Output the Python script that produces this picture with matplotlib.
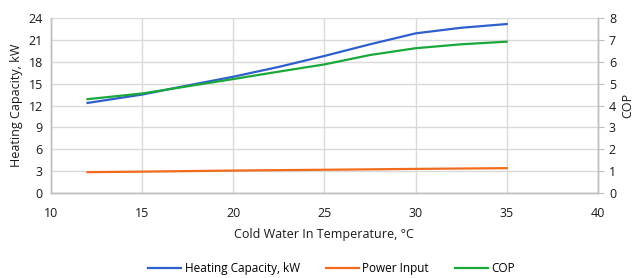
import matplotlib
matplotlib.use("Agg")
import matplotlib.pyplot as plt

plt.rcParams['font.family'] = ['Open Sans', 'DejaVu Sans']

temperature = [12, 15, 17.5, 20, 22.5, 25, 27.5, 30, 32.5, 35]
heating_capacity = [12.35, 13.5, 14.75, 15.95, 17.3, 18.8, 20.4, 21.9, 22.67, 23.18]
power_input = [2.85, 2.92, 3.0, 3.07, 3.13, 3.18, 3.24, 3.3, 3.35, 3.4]
cop = [4.29, 4.55, 4.88, 5.21, 5.55, 5.88, 6.31, 6.62, 6.8, 6.92]

x_ticks = [10, 15, 20, 25, 30, 35, 40]
left_ticks = [0, 3, 6, 9, 12, 15, 18, 21, 24]
right_ticks = [0, 1, 2, 3, 4, 5, 6, 7, 8]

c_blue = '#2f5fcc'
c_orange = '#f26b1d'
c_green = '#1aa83a'
grid_c = '#d9d9d9'
text_c = '#1a1a1a'

fig = plt.figure(figsize=(6.38, 2.78), dpi=100)
ax = fig.add_axes([0.08, 0.306, 0.857, 0.629])
ax2 = ax.twinx()

l1, = ax.plot(temperature, heating_capacity, color=c_blue, lw=1.6, label='Heating Capacity, kW')
l2, = ax.plot(temperature, power_input, color=c_orange, lw=1.6, label='Power Input')
l3, = ax2.plot(temperature, cop, color=c_green, lw=1.6, label='COP')

ax.set_xlim(10, 40)
ax.set_ylim(0, 24)
ax2.set_ylim(0, 8)
ax.set_xticks(x_ticks)
ax.set_yticks(left_ticks)
ax2.set_yticks(right_ticks)

ax.grid(True, color=grid_c, lw=1)
ax.set_axisbelow(True)

for a in (ax, ax2):
    a.spines['top'].set_visible(False)
    for s in ('left', 'right', 'bottom'):
        a.spines[s].set_color('#bfbfbf')
        a.spines[s].set_linewidth(1)

ax.tick_params(axis='y', length=0, pad=6, labelsize=9, colors=text_c)
ax.tick_params(axis='x', length=0, pad=10, labelsize=9, colors=text_c)
ax2.tick_params(axis='y', length=4, color='#bfbfbf', pad=4, labelsize=9, labelcolor=text_c)

ax.set_xlabel('Cold Water In Temperature, °C', fontsize=9, color=text_c, labelpad=6)
ax.set_ylabel('Heating Capacity, kW', fontsize=9, color=text_c, labelpad=4)
ax2.set_ylabel('COP', fontsize=9, color=text_c, labelpad=4)

fig.legend(handles=[l1, l2, l3], loc='center', bbox_to_anchor=(0.52, 0.035), ncol=3,
           frameon=False, fontsize=8.5, handlelength=2.8, columnspacing=2.2, handletextpad=0.3)

fig.savefig('out.png', dpi=100)
